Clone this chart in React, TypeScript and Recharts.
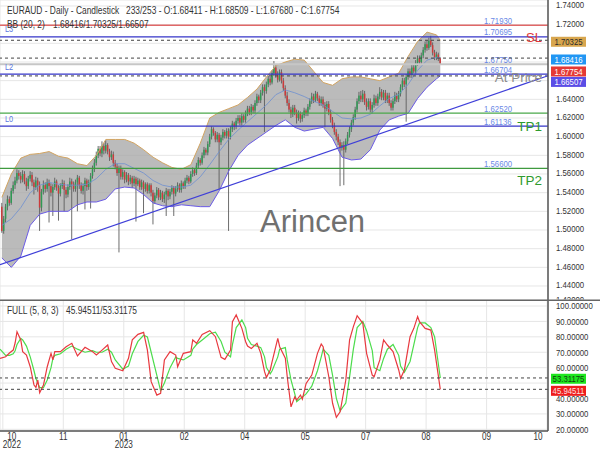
import React from 'react'
import { ComposedChart, Bar, Line, Area, XAxis, YAxis, CartesianGrid, ReferenceLine } from 'recharts'

const SANS = "'Liberation Sans', Arial, sans-serif"

// ---- daily candles (open = previous close, forex style) ----
const firstOpen = 1.525
const closes = [
  1.4990, 1.5120, 1.5250, 1.5330, 1.5290, 1.5420, 1.5480, 1.5530, 1.5610, 1.5580,
  1.5540, 1.5600, 1.5520, 1.5470, 1.5550, 1.5590, 1.5510, 1.5460, 1.5530, 1.5480,
  1.5240, 1.5410, 1.5480, 1.5440, 1.5510, 1.5470, 1.5400, 1.5460, 1.5520, 1.5450,
  1.5390, 1.5470, 1.5500, 1.5430, 1.5380, 1.5460, 1.5520, 1.5490, 1.5440, 1.5510,
  1.5560, 1.5480, 1.5420, 1.5470, 1.5530, 1.5460, 1.5510, 1.5580, 1.5650, 1.5720,
  1.5800, 1.5870, 1.5820, 1.5900, 1.5850, 1.5910, 1.5840, 1.5780, 1.5810, 1.5720,
  1.5680, 1.5610, 1.5660, 1.5570, 1.5620, 1.5540, 1.5590, 1.5520, 1.5560, 1.5500,
  1.5550, 1.5490, 1.5530, 1.5460, 1.5510, 1.5440, 1.5490, 1.5420, 1.5480, 1.5400,
  1.5310, 1.5370, 1.5430, 1.5350, 1.5400, 1.5330, 1.5380, 1.5420, 1.5360, 1.5410,
  1.5450, 1.5390, 1.5440, 1.5480, 1.5430, 1.5500, 1.5470, 1.5530, 1.5560, 1.5520,
  1.5600, 1.5640, 1.5610, 1.5690, 1.5750, 1.5720, 1.5800, 1.5860, 1.5830, 1.5920,
  1.6000, 1.6080, 1.6040, 1.5970, 1.6020, 1.5940, 1.5990, 1.6050, 1.6010, 1.6060,
  1.6000, 1.6080, 1.6140, 1.6110, 1.6170, 1.6200, 1.6150, 1.6220, 1.6180, 1.6250,
  1.6300, 1.6260, 1.6320, 1.6280, 1.6360, 1.6430, 1.6390, 1.6470, 1.6530, 1.6490,
  1.6560, 1.6620, 1.6580, 1.6680, 1.6740, 1.6660, 1.6610, 1.6690, 1.6600, 1.6520,
  1.6440, 1.6360, 1.6290, 1.6240, 1.6310, 1.6260, 1.6200, 1.6250, 1.6190, 1.6230,
  1.6280, 1.6250, 1.6320, 1.6380, 1.6430, 1.6390, 1.6460, 1.6410, 1.6360, 1.6400,
  1.6340, 1.6300, 1.6350, 1.6260, 1.6180, 1.6120, 1.6050, 1.6000, 1.5940, 1.5880,
  1.5910, 1.5860, 1.5950, 1.6020, 1.6080, 1.6150, 1.6210, 1.6290, 1.6380, 1.6440,
  1.6400, 1.6460, 1.6370, 1.6320, 1.6380, 1.6290, 1.6340, 1.6410, 1.6360, 1.6430,
  1.6480, 1.6420, 1.6470, 1.6390, 1.6440, 1.6360, 1.6310, 1.6380, 1.6440, 1.6400,
  1.6460, 1.6530, 1.6600, 1.6560, 1.6640, 1.6700, 1.6660, 1.6740, 1.6700, 1.6790,
  1.6840, 1.6800, 1.6870, 1.6930, 1.6990, 1.6950, 1.7030, 1.6980, 1.6900, 1.6850,
  1.6880, 1.68411, 1.67754,
]
const highs = [
  1.5290, 1.5150, 1.5280, 1.5370, 1.5360, 1.5450, 1.5520, 1.5570, 1.5650, 1.5640,
  1.5620, 1.5640, 1.5630, 1.5560, 1.5580, 1.5630, 1.5620, 1.5540, 1.5570, 1.5560,
  1.5520, 1.5440, 1.5530, 1.5510, 1.5550, 1.5540, 1.5500, 1.5490, 1.5560, 1.5540,
  1.5480, 1.5500, 1.5540, 1.5530, 1.5460, 1.5490, 1.5560, 1.5550, 1.5520, 1.5540,
  1.5590, 1.5580, 1.5510, 1.5500, 1.5560, 1.5550, 1.5540, 1.5610, 1.5690, 1.5760,
  1.5840, 1.5900, 1.5900, 1.5950, 1.5930, 1.5960, 1.5930, 1.5870, 1.5850, 1.5840,
  1.5750, 1.5710, 1.5690, 1.5690, 1.5650, 1.5640, 1.5620, 1.5610, 1.5590, 1.5580,
  1.5580, 1.5570, 1.5560, 1.5550, 1.5540, 1.5530, 1.5510, 1.5510, 1.5500, 1.5500,
  1.5430, 1.5400, 1.5460, 1.5450, 1.5430, 1.5420, 1.5410, 1.5450, 1.5440, 1.5440,
  1.5480, 1.5470, 1.5470, 1.5510, 1.5500, 1.5530, 1.5520, 1.5560, 1.5590, 1.5580,
  1.5630, 1.5670, 1.5660, 1.5720, 1.5780, 1.5770, 1.5830, 1.5890, 1.5880, 1.5950,
  1.6030, 1.6110, 1.6100, 1.6060, 1.6050, 1.6040, 1.6020, 1.6080, 1.6070, 1.6090,
  1.6090, 1.6110, 1.6170, 1.6160, 1.6200, 1.6230, 1.6230, 1.6250, 1.6240, 1.6280,
  1.6330, 1.6330, 1.6350, 1.6340, 1.6390, 1.6460, 1.6450, 1.6500, 1.6560, 1.6560,
  1.6590, 1.6650, 1.6640, 1.6710, 1.6810, 1.6770, 1.6700, 1.6720, 1.6720, 1.6630,
  1.6550, 1.6480, 1.6400, 1.6320, 1.6340, 1.6340, 1.6290, 1.6280, 1.6270, 1.6260,
  1.6310, 1.6300, 1.6350, 1.6410, 1.6470, 1.6460, 1.6490, 1.6480, 1.6440, 1.6430,
  1.6430, 1.6370, 1.6380, 1.6380, 1.6290, 1.6210, 1.6150, 1.6080, 1.6030, 1.5970,
  1.5940, 1.5950, 1.5980, 1.6050, 1.6110, 1.6180, 1.6240, 1.6320, 1.6410, 1.6480,
  1.6490, 1.6500, 1.6490, 1.6410, 1.6410, 1.6410, 1.6370, 1.6450, 1.6440, 1.6460,
  1.6530, 1.6510, 1.6500, 1.6500, 1.6470, 1.6470, 1.6390, 1.6410, 1.6480, 1.6470,
  1.6490, 1.6560, 1.6630, 1.6630, 1.6670, 1.6730, 1.6730, 1.6770, 1.6770, 1.6820,
  1.6870, 1.6870, 1.6900, 1.6960, 1.7020, 1.7030, 1.7060, 1.7080, 1.7010, 1.6930,
  1.6910, 1.6900, 1.68509,
]
const lows = [
  1.4970, 1.4960, 1.5080, 1.5210, 1.5260, 1.5270, 1.5390, 1.5440, 1.5500, 1.5540,
  1.5500, 1.5510, 1.5490, 1.5420, 1.5440, 1.5520, 1.5470, 1.5380, 1.5430, 1.5410,
  1.4990, 1.5200, 1.5380, 1.5400, 1.5410, 1.5080, 1.5360, 1.5150, 1.5430, 1.5420,
  1.5100, 1.5360, 1.5440, 1.5200, 1.5340, 1.5350, 1.5430, 1.4900, 1.5410, 1.5410,
  1.5200, 1.5440, 1.5390, 1.5380, 1.5220, 1.5420, 1.5430, 1.5230, 1.5550, 1.5620,
  1.5690, 1.5770, 1.5790, 1.5780, 1.5810, 1.5820, 1.5810, 1.5740, 1.5750, 1.5680,
  1.5650, 1.5580, 1.4760, 1.5540, 1.5540, 1.5500, 1.5510, 1.5480, 1.5490, 1.5450,
  1.5470, 1.5090, 1.5470, 1.5430, 1.5430, 1.5180, 1.5410, 1.5390, 1.5390, 1.5360,
  1.5060, 1.5280, 1.5340, 1.5320, 1.5320, 1.5300, 1.5290, 1.5150, 1.5320, 1.5330,
  1.5380, 1.5150, 1.5360, 1.5410, 1.5400, 1.5400, 1.5440, 1.5440, 1.5500, 1.5490,
  1.5500, 1.5570, 1.5580, 1.5590, 1.5660, 1.5690, 1.5700, 1.5770, 1.5800, 1.5800,
  1.5890, 1.5970, 1.6010, 1.5940, 1.5940, 1.5440, 1.5910, 1.5960, 1.5980, 1.5980,
  1.4990, 1.5970, 1.6050, 1.6070, 1.6080, 1.6140, 1.6120, 1.6120, 1.6150, 1.6150,
  1.6220, 1.6230, 1.6230, 1.6250, 1.6250, 1.6330, 1.6360, 1.6360, 1.6440, 1.6050,
  1.6460, 1.6530, 1.6550, 1.6560, 1.6650, 1.6630, 1.6580, 1.6590, 1.6570, 1.6490,
  1.6410, 1.6330, 1.6260, 1.6200, 1.6210, 1.6230, 1.6140, 1.6170, 1.6150, 1.6160,
  1.6200, 1.6220, 1.6220, 1.6290, 1.6350, 1.6360, 1.6370, 1.6380, 1.6330, 1.6330,
  1.6310, 1.6100, 1.6270, 1.6230, 1.6150, 1.6090, 1.6020, 1.5960, 1.5910, 1.5470,
  1.5850, 1.5480, 1.5830, 1.5920, 1.5990, 1.6050, 1.6120, 1.6180, 1.6260, 1.6350,
  1.6370, 1.6370, 1.6340, 1.6280, 1.6290, 1.6260, 1.6250, 1.6310, 1.6330, 1.6330,
  1.6400, 1.6390, 1.6390, 1.6360, 1.6360, 1.6330, 1.6280, 1.6280, 1.6350, 1.6370,
  1.6370, 1.6430, 1.6500, 1.6530, 1.6160, 1.6610, 1.6630, 1.6630, 1.6680, 1.6670,
  1.6760, 1.6770, 1.6780, 1.6840, 1.6900, 1.6920, 1.6930, 1.6960, 1.6870, 1.6820,
  1.6820, 1.6810, 1.67680,
]
const candles = closes.map((c, i) => ({ i, o: i === 0 ? firstOpen : closes[i - 1], h: highs[i], l: lows[i], c }))

// ---- Bollinger (20, 2), read every 5 candles ----
const bbIdx = [0, 5, 10, 15, 20, 25, 30, 35, 40, 45, 50, 55, 60, 65, 70, 75, 80, 85, 90, 95, 100, 105, 110, 115, 120, 125, 130, 135, 140, 145, 150, 155, 160, 165, 170, 175, 180, 185, 190, 195, 200, 205, 210, 215, 220, 225, 230, 232]
const bbUpper = [1.535, 1.560, 1.577, 1.581, 1.582, 1.584, 1.579, 1.577, 1.571, 1.569, 1.580, 1.597, 1.597, 1.597, 1.593, 1.586, 1.578, 1.572, 1.567, 1.565, 1.570, 1.593, 1.620, 1.626, 1.630, 1.634, 1.642, 1.651, 1.664, 1.676, 1.680, 1.683, 1.682, 1.670, 1.658, 1.655, 1.662, 1.664, 1.664, 1.662, 1.660, 1.664, 1.668, 1.686, 1.702, 1.712, 1.709, 1.70325]
const bbMiddle = [1.505, 1.512, 1.524, 1.540, 1.548, 1.551, 1.549, 1.548, 1.548, 1.549, 1.555, 1.565, 1.571, 1.571, 1.566, 1.561, 1.553, 1.548, 1.546, 1.546, 1.548, 1.557, 1.570, 1.584, 1.597, 1.607, 1.616, 1.625, 1.634, 1.645, 1.650, 1.647, 1.643, 1.638, 1.634, 1.627, 1.620, 1.619, 1.620, 1.624, 1.633, 1.641, 1.645, 1.656, 1.671, 1.682, 1.685, 1.68416]
const bbLower = [1.470, 1.460, 1.472, 1.505, 1.517, 1.520, 1.520, 1.520, 1.527, 1.530, 1.530, 1.533, 1.544, 1.546, 1.545, 1.538, 1.529, 1.526, 1.525, 1.527, 1.526, 1.525, 1.525, 1.542, 1.563, 1.580, 1.591, 1.598, 1.605, 1.612, 1.618, 1.610, 1.606, 1.608, 1.610, 1.598, 1.578, 1.575, 1.576, 1.586, 1.607, 1.618, 1.622, 1.625, 1.641, 1.653, 1.662, 1.66507]
const bands = bbIdx.map((i, k) => ({ i, up: bbUpper[k], mid: bbMiddle[k], lo: bbLower[k] }))

// ---- Full stochastic (5, 8, 3) ----
const stochIdx = [-1, 2, 4, 6, 7, 8, 10, 11, 13, 15, 17, 18, 19, 20, 22, 24, 26, 27, 28, 31, 34, 37, 40, 44, 48, 50, 53, 56, 58, 60, 64, 67, 69, 72, 75, 77, 79, 82, 84, 86, 89, 92, 93, 96, 100, 101, 103, 106, 110, 113, 116, 118, 121, 122, 124, 127, 129, 130, 132, 135, 137, 139, 140, 142, 143, 146, 147, 150, 151, 153, 155, 156, 158, 159, 161, 164, 167, 169, 170, 173, 175, 177, 179, 182, 184, 186, 188, 191, 193, 196, 197, 200, 202, 204, 207, 210, 211, 213, 216, 218, 220, 221, 224, 227, 229, 232]
const stochK = [66, 67.1, 69.5, 71.4, 76, 83.3, 78, 70.4, 68.2, 60.6, 48.7, 47.2, 52, 43.7, 48.7, 60.6, 69.3, 65, 70.4, 70.4, 73.6, 75.8, 67.6, 73.2, 70.4, 68.2, 71.4, 74.7, 63.9, 59.6, 58, 66.1, 78, 81.6, 82.9, 71.4, 50.9, 42.2, 43.3, 65, 70.4, 68.2, 60.6, 69.3, 70.4, 78, 75.8, 81.6, 84, 80.1, 66.7, 65.4, 71.4, 89.8, 94.2, 85.5, 76.8, 74, 72.5, 75.8, 69.3, 57.4, 53.7, 58.5, 63.9, 79, 73.6, 66.1, 54.1, 34.6, 41.1, 39, 42.2, 39.5, 49.8, 55.2, 69.3, 75.3, 73.6, 54.1, 36.9, 27.8, 31.4, 52, 78, 86.6, 93.7, 88.8, 69.3, 55.2, 54.1, 65, 78, 74.7, 70.4, 58.5, 53.1, 58.5, 80.1, 85.5, 93.1, 89.8, 85.5, 84.4, 71.4, 45.94511]
const stochD = [72, 68, 68, 69, 71, 75, 79, 78, 74, 67, 58, 53, 50, 47, 47, 52, 60, 66, 68, 69, 72, 74, 72, 70, 71, 70, 70, 72, 70, 65, 59, 61, 69, 77, 81, 80, 70, 55, 45, 50, 60, 67, 66, 65, 68, 72, 75, 78, 82, 83, 77, 70, 67, 75, 86, 91, 86, 79, 75, 74, 73, 67, 60, 56, 58, 67, 72, 73, 65, 52, 43, 38, 40, 41, 43, 48, 58, 67, 72, 68, 55, 40, 32, 37, 54, 72, 86, 90, 84, 71, 60, 58, 66, 72, 75, 68, 61, 57, 64, 75, 86, 89, 89, 86, 80, 53.31175]
const stochRows = stochIdx.map((i, k) => ({ i, k: stochK[k], d: stochD[k] }))

// ---- axes ----
const monthTicks = [0.5, 32.5, 64.5, 96.5, 128.5, 160.5, 192.5, 224.5, 256.5, 288.5]
const monthLabels = ['10', '11', '01', '02', '04', '05', '07', '08', '09', '10']
const yearLabels = ['2022', '', '2023', '', '', '', '', '', '', '']
const priceTicks = [1.44, 1.46, 1.48, 1.5, 1.52, 1.54, 1.56, 1.58, 1.6, 1.62, 1.64, 1.66, 1.68, 1.7, 1.72, 1.74]
const priceTicksUnderTags = [1.66, 1.68, 1.7]
const clippedPriceLabel = '1.42000'
const stochTicks = [20, 30, 40, 50, 60, 70, 80, 90, 100]
const stochTicksUnderTags = [50]

// ---- drawn levels ----
const levels = [
  { v: 1.7193, text: '1.71930', tag: '', color: '#e06868', w: 1.5 },
  { v: 1.70695, text: '1.70695', tag: 'L3', color: '#3535c8', w: 1.2 },
  { v: 1.6775, text: '1.67750', tag: '', color: '#c6c6c6', w: 2 },
  { v: 1.66704, text: '1.66704', tag: 'L2', color: '#3535c8', w: 1.2 },
  { v: 1.6252, text: '1.62520', tag: '', color: '#4aa84a', w: 1.2 },
  { v: 1.61136, text: '1.61136', tag: 'L0', color: '#3535c8', w: 1.2 },
  { v: 1.566, text: '1.56600', tag: '', color: '#3f9a3f', w: 1.2 },
]
const signals = [
  { v: 1.70695, text: 'SL', color: '#e23a3a', dy: 5.5, size: 13 },
  { v: 1.66704, text: 'At Price', color: '#8c8c8c', dy: 8, size: 13.5 },
  { v: 1.61136, text: 'TP1', color: '#2e9a2e', dy: 4.7, size: 13.5 },
  { v: 1.566, text: 'TP2', color: '#2e9a2e', dy: 16.5, size: 13.5 },
]
const priceTags = [
  { v: 1.70325, bg: '#d8a64e', fg: '#2a2a2a', dy: 1.5, dashed: true },
  { v: 1.68416, bg: '#2196f3', fg: '#ffffff', dy: 1.4, dashed: true },
  { v: 1.67754, bg: '#e53935', fg: '#ffffff', dy: 7.2, dashed: false },
  { v: 1.66507, bg: '#5b4ee6', fg: '#ffffff', dy: 6, dashed: true },
]
const stochTags = [
  { v: 53.31175, bg: '#1ee61e', fg: '#104010', dy: 0.8 },
  { v: 45.94511, bg: '#ee1c1c', fg: '#ffe0e0', dy: 1.5 },
]
const trendFrom = { x: -1, y: 1.4628 }
const trendTo = { x: 289, y: 1.6653 }

const X_DOMAIN = [-1, 289]
const PRICE_DOMAIN = [1.425, 1.7464]
const STOCH_DOMAIN = [18.9, 103.9]

// condensed text: the source uses a narrow sans
function NText({ x, y, size = 10, fill = '#333', anchor = 'start', sx = 0.82, children }: any) {
  return (
    <text transform={`translate(${x},${y}) scale(${sx},1)`} fontSize={size} fill={fill} textAnchor={anchor} fontFamily={SANS}>
      {children}
    </text>
  )
}

function Candle(props: any) {
  const { x, y, width, height, payload } = props
  const { o, h, l, c } = payload
  const top = Math.min(y, y + height)
  const span = Math.abs(height)
  const k = h - l > 0 ? span / (h - l) : 0
  const cx = x + width / 2
  const bodyTop = top + (h - Math.max(o, c)) * k
  const bodyH = Math.max(1, Math.abs(o - c) * k)
  return (
    <g>
      <line x1={cx} x2={cx} y1={top} y2={top + span} stroke="#5c5c5c" strokeWidth={0.9} />
      <rect x={cx - 0.75} y={bodyTop} width={1.5} height={bodyH} fill={c >= o ? '#2f9a55' : '#cc3b3b'} />
    </g>
  )
}

function tagLabel(text: string, bg: string, fg: string, dy: number) {
  return (p: any) => {
    const cy = p.viewBox.y + dy
    return (
      <g>
        <rect x={551} y={cy - 5} width={35} height={10} fill={bg} />
        <NText x={568.5} y={cy + 3.4} size={9.5} fill={fg} anchor="middle">{text}</NText>
      </g>
    )
  }
}

function levelLabel(text: string, tag: string) {
  return (p: any) => {
    const y = p.viewBox.y
    return (
      <g>
        <NText x={484} y={y - 1.5} size={9.5} fill="#6a88e6">{text}</NText>
        {tag ? <NText x={5} y={y - 4.5} size={9} fill="#5a76e0">{tag}</NText> : null}
      </g>
    )
  }
}

function signalLabel(text: string, color: string, dy: number, size: number) {
  return (p: any) => (
    <text x={542} y={p.viewBox.y + dy} textAnchor="end" fill={color} fontSize={size} fontFamily={SANS}>{text}</text>
  )
}

function makeValueTick(hidden: number[], dy: number) {
  return (props: any) => {
    const { x, y, payload } = props
    if (hidden.includes(payload.value)) return <g />
    return <NText x={x} y={y + 3.4 + dy} size={9.5}>{payload.value.toFixed(5)}</NText>
  }
}

function MonthTick(props: any) {
  const { x, y, payload } = props
  const k = monthTicks.indexOf(payload.value)
  const dx = k === 0 ? 9 : k === monthTicks.length - 1 ? -9 : 0
  return (
    <g>
      <NText x={x + dx} y={y + 1} size={10} anchor="middle">{monthLabels[k]}</NText>
      {yearLabels[k] ? <NText x={x + dx} y={y + 9.3} size={10} anchor="middle">{yearLabels[k]}</NText> : null}
    </g>
  )
}

function PricePanel() {
  return (
    <ComposedChart width={600} height={300} data={candles} margin={{ top: 0, right: 0, bottom: 0, left: 0 }}>
      <CartesianGrid stroke="#e6e6e6" />
      <XAxis type="number" dataKey="i" domain={X_DOMAIN} ticks={monthTicks} allowDataOverflow height={0} tick={false} axisLine={false} tickLine={false} />
      <YAxis
        orientation="right"
        type="number"
        domain={PRICE_DOMAIN}
        ticks={priceTicks}
        interval={0}
        allowDataOverflow
        width={52}
        axisLine={{ stroke: '#555', strokeWidth: 1.5 }}
        tickLine={false}
        tick={makeValueTick(priceTicksUnderTags, -1)}
      />
      <Area data={bands} dataKey={(d: any) => [d.lo, d.up]} stroke="none" fill="#a5a5a5" fillOpacity={0.76} dot={false} activeDot={false} isAnimationActive={false} />
      <Line data={bands} dataKey="up" stroke="#d2a461" strokeWidth={1} dot={false} activeDot={false} isAnimationActive={false} />
      <Line data={bands} dataKey="lo" stroke="#6b5be6" strokeWidth={1} dot={false} activeDot={false} isAnimationActive={false} />
      <Line data={bands} dataKey="mid" stroke="#6d8fd0" strokeWidth={0.8} dot={false} activeDot={false} isAnimationActive={false} />
      <Bar dataKey={(d: any) => [d.l, d.h]} barSize={2} shape={Candle} isAnimationActive={false} />
      {levels.map((lv) => (
        <ReferenceLine key={lv.text} y={lv.v} stroke={lv.color} strokeWidth={lv.w} label={levelLabel(lv.text, lv.tag)} />
      ))}
      {priceTags.map((t) => (
        <ReferenceLine
          key={t.v}
          y={t.v}
          stroke={t.dashed ? '#444' : 'none'}
          strokeDasharray="3 3"
          label={tagLabel(t.v.toFixed(5), t.bg, t.fg, t.dy)}
        />
      ))}
      <ReferenceLine segment={[trendFrom, trendTo]} stroke="#3f3fd8" strokeWidth={1.2} />
      {signals.map((s) => (
        <ReferenceLine key={s.text} y={s.v} stroke="none" label={signalLabel(s.text, s.color, s.dy, s.size)} />
      ))}
    </ComposedChart>
  )
}

function StochPanel() {
  return (
    <ComposedChart width={600} height={150} data={stochRows} margin={{ top: 0, right: 0, bottom: 0, left: 0 }}>
      <CartesianGrid stroke="#e6e6e6" />
      <XAxis
        type="number"
        dataKey="i"
        domain={X_DOMAIN}
        ticks={monthTicks}
        interval={0}
        allowDataOverflow
        height={19}
        axisLine={{ stroke: '#555', strokeWidth: 1.5 }}
        tickLine={false}
        tick={<MonthTick />}
      />
      <YAxis
        orientation="right"
        type="number"
        domain={STOCH_DOMAIN}
        ticks={stochTicks}
        interval={0}
        allowDataOverflow
        width={52}
        axisLine={{ stroke: '#555', strokeWidth: 1.5 }}
        tickLine={false}
        tick={makeValueTick(stochTicksUnderTags, 0)}
      />
      <Line dataKey="d" stroke="#4cdc4c" strokeWidth={1.2} dot={false} activeDot={false} isAnimationActive={false} />
      <Line dataKey="k" stroke="#e8393f" strokeWidth={1.2} dot={false} activeDot={false} isAnimationActive={false} />
      {stochTags.map((t) => (
        <ReferenceLine key={t.v} y={t.v} stroke="#444" strokeDasharray="3 3" label={tagLabel(t.v.toFixed(5), t.bg, t.fg, t.dy)} />
      ))}
    </ComposedChart>
  )
}

export default function App() {
  return (
    <div style={{ position: 'absolute', left: 0, top: 0, width: 600, height: 450, background: '#fff', overflow: 'hidden' }}>
      <div style={{ position: 'absolute', left: 0, top: 0 }}>
        <PricePanel />
      </div>
      <div style={{ position: 'absolute', left: 0, top: 300 }}>
        <StochPanel />
      </div>
      <svg width={600} height={450} style={{ position: 'absolute', left: 0, top: 0, pointerEvents: 'none' }}>
        <defs>
          <clipPath id="topPanel">
            <rect x={0} y={0} width={600} height={299.5} />
          </clipPath>
        </defs>
        <g clipPath="url(#topPanel)">
          <NText x={556} y={302.5} size={9.5}>{clippedPriceLabel}</NText>
        </g>
        <rect x={0} y={299.5} width={600} height={1.5} fill="#666" />
        <NText x={7} y={14} sx={0.84}>EURAUD - Daily - Candlestick</NText>
        <NText x={126} y={14} sx={0.84}>233/253 - O:1.68411 - H:1.68509 - L:1.67680 - C:1.67754</NText>
        <NText x={7} y={28} sx={0.84}>BB (20, 2)</NText>
        <NText x={53} y={28} sx={0.84}>1.68416/1.70325/1.66507</NText>
        <NText x={7} y={314} sx={0.84}>FULL (5, 8, 3)</NText>
        <NText x={66} y={314} sx={0.84}>45.94511/53.31175</NText>
        <text x={260} y={232} fill="#707070" fontSize={31} fontFamily={SANS}>Arincen</text>
      </svg>
    </div>
  )
}
